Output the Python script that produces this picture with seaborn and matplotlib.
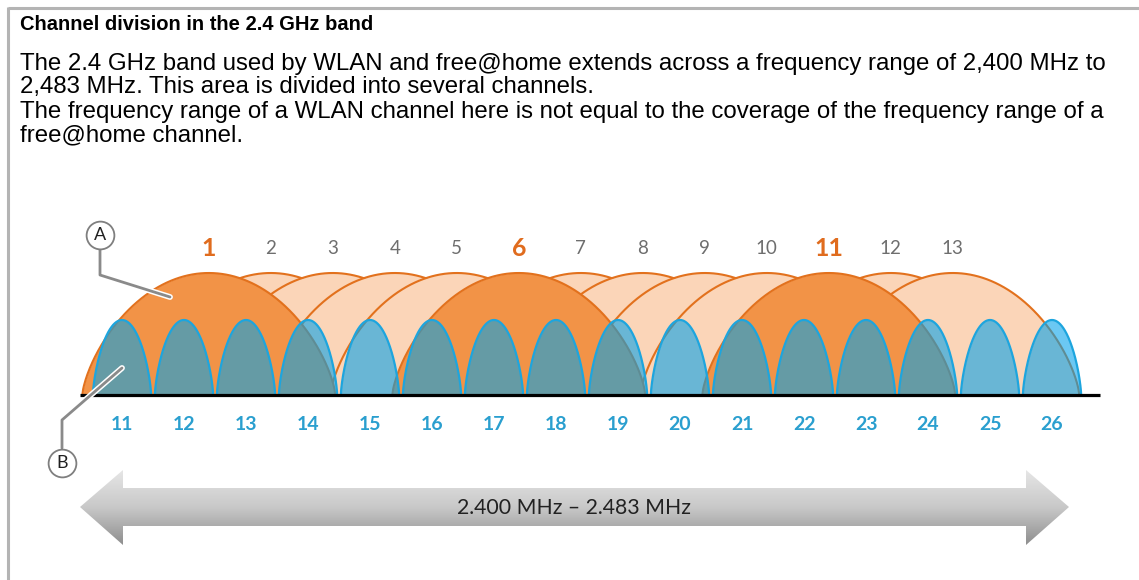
import numpy as np
import matplotlib
matplotlib.use("Agg")
import matplotlib.pyplot as plt
import matplotlib.patheffects as pe
from matplotlib.patches import Polygon
import seaborn as sns

# WLAN channels and their centre frequencies (MHz)
wlan_channels = [1, 2, 3, 4, 5, 6, 7, 8, 9, 10, 11, 12, 13]
wlan_centers = [2412, 2417, 2422, 2427, 2432, 2437, 2442, 2447, 2452, 2457, 2462, 2467, 2472]
wlan_main = [1, 6, 11]
wlan_half = 10.2      # drawn half width (MHz)
wlan_height = 122

# free@home channels and their centre frequencies (MHz)
fh_channels = [11, 12, 13, 14, 15, 16, 17, 18, 19, 20, 21, 22, 23, 24, 25, 26]
fh_centers = [2405, 2410, 2415, 2420, 2425, 2430, 2435, 2440, 2445, 2450,
              2455, 2460, 2465, 2470, 2475, 2480]
fh_half = 2.35
fh_height = 75

band_label = "2.400 MHz \u2013 2.483 MHz"
title = "Channel division in the 2.4 GHz band"
body_lines = [
    "The 2.4 GHz band used by WLAN and free@home extends across a frequency range of 2,400 MHz to",
    "2,483 MHz. This area is divided into several channels.",
    "The frequency range of a WLAN channel here is not equal to the coverage of the frequency range of a",
    "free@home channel.",
]

W, H = 1139, 580
PX_PER_MHZ = 12.4
X0 = 2405 - 122 / PX_PER_MHZ


def fx(px):
    return X0 + px / PX_PER_MHZ


def fy(py):
    return 395 - py


def arch(c, half, h, n=300):
    u = np.linspace(-1, 1, n)
    return c + u * half, h * (1 - u ** 2) ** 0.7


sns.set_theme(style="white")
fig = plt.figure(figsize=(W / 100, H / 100), dpi=100)
ax = fig.add_axes([0, 0, 1, 1])
ax.set_xlim(fx(0), fx(W))
ax.set_ylim(fy(H), fy(0))
ax.axis("off")

orange_dark = "#F29347"
orange_light = "#FBD5B8"
orange_edge = "#E2711D"
blue_fill = (0.0, 0.63, 0.92)
blue_edge = "#1DA5DE"

# light WLAN channels, later ones on top
for i, (ch, c) in enumerate(zip(wlan_channels, wlan_centers)):
    if ch in wlan_main:
        continue
    x, y = arch(c, wlan_half, wlan_height)
    ax.fill_between(x, 0, y, color=orange_light, lw=0, zorder=1 + i)
    sns.lineplot(x=x, y=y, color=orange_edge, lw=1.5, ax=ax, zorder=1.5 + i)

# channels 1, 6, 11 on top
for ch, c in zip(wlan_channels, wlan_centers):
    if ch not in wlan_main:
        continue
    x, y = arch(c, wlan_half, wlan_height)
    ax.fill_between(x, 0, y, color=orange_dark, lw=0, zorder=20)
    sns.lineplot(x=x, y=y, color=orange_edge, lw=1.5, ax=ax, zorder=20.5)

# free@home channels, translucent
for c in fh_centers:
    x, y = arch(c, fh_half, fh_height)
    ax.fill_between(x, 0, y, color=blue_fill, alpha=0.58, lw=0, zorder=30)
    sns.lineplot(x=x, y=y, color=blue_edge, lw=1.6, ax=ax, zorder=31)

# baseline
ax.plot([fx(80), fx(1100)], [0, 0], color="black", lw=2.3, zorder=40,
        solid_capstyle="butt")

# channel labels
for ch, c in zip(wlan_channels, wlan_centers):
    if ch in wlan_main:
        ax.text(c, fy(248), str(ch), ha="center", va="center", fontsize=18,
                fontweight="bold", color="#E06C1E", family="Lato", zorder=50)
    else:
        ax.text(c, fy(248), str(ch), ha="center", va="center", fontsize=13.5,
                color="#6E6E6E", family="Lato", zorder=50)
for ch, c in zip(fh_channels, fh_centers):
    ax.text(c, fy(425), str(ch), ha="center", va="center", fontsize=14,
            fontweight="bold", color="#2A9FCF", family="Lato", zorder=50)

# callouts A and B
stroke = [pe.Stroke(linewidth=4.2, foreground="white"), pe.Normal()]
ax.plot([fx(100), fx(100), fx(170)], [fy(249), fy(275), fy(297)],
        color="#8A8A8A", lw=2, zorder=60, path_effects=stroke)
ax.plot([fx(122), fx(62), fx(62)], [fy(368), fy(420), fy(448)],
        color="#8A8A8A", lw=2, zorder=60, path_effects=stroke)
for px, py, lab in [(100, 235, "A"), (62, 463, "B")]:
    ax.plot(fx(px), fy(py), marker="o", ms=20, mfc="white", mec="#7F7F7F",
            mew=1.3, zorder=61)
    ax.text(fx(px), fy(py), lab, ha="center", va="center", fontsize=13,
            family="Lato", color="#202020", zorder=62)

# double arrow with grey gradient
pts = [(80, 507), (123, 470), (123, 488), (1026, 488), (1026, 470), (1069, 507),
       (1026, 545), (1026, 526), (123, 526), (123, 545)]
poly = Polygon([(fx(a), fy(b)) for a, b in pts], closed=True, fc="none",
               ec="none", zorder=45)
ax.add_patch(poly)
grad = np.linspace(0, 1, 256).reshape(-1, 1)
im = ax.imshow(grad, cmap=sns.blend_palette(["#E6E6E6", "#C8C8C8", "#8E8E8E"],
                                            as_cmap=True),
               extent=[fx(80), fx(1069), fy(545), fy(470)], origin="upper",
               aspect="auto", zorder=45)
im.set_clip_path(poly)
ax.set_xlim(fx(0), fx(W))
ax.set_ylim(fy(H), fy(0))
ax.text(fx(574), fy(508), band_label, ha="center", va="center", fontsize=15.3,
        family="Lato", color="#222222", zorder=50)

# frame
frame = "#B4B4B4"
ax.plot([fx(8), fx(W)], [fy(8), fy(8)], color=frame, lw=2.2, zorder=70,
        solid_capstyle="butt")
ax.plot([fx(8), fx(8)], [fy(7), fy(H)], color=frame, lw=2.2, zorder=70,
        solid_capstyle="butt")

# header text
t_title = fig.text(20 / W, 1 - 30 / H, title, fontsize=15, fontweight="bold",
                   family="Liberation Sans", color="black", va="baseline")
baselines = [70, 93, 118, 141]
t_body = [fig.text(20 / W, 1 - b / H, s, fontsize=15, family="Liberation Sans",
                   color="black", va="baseline")
          for b, s in zip(baselines, body_lines)]

fig.canvas.draw()
w = t_body[0].get_window_extent().width
size = 15 * (1090 / w)
for t in t_body:
    t.set_fontsize(size)
wt = t_title.get_window_extent().width
t_title.set_fontsize(15 * (355 / wt))

fig.savefig("out.png", dpi=100)
